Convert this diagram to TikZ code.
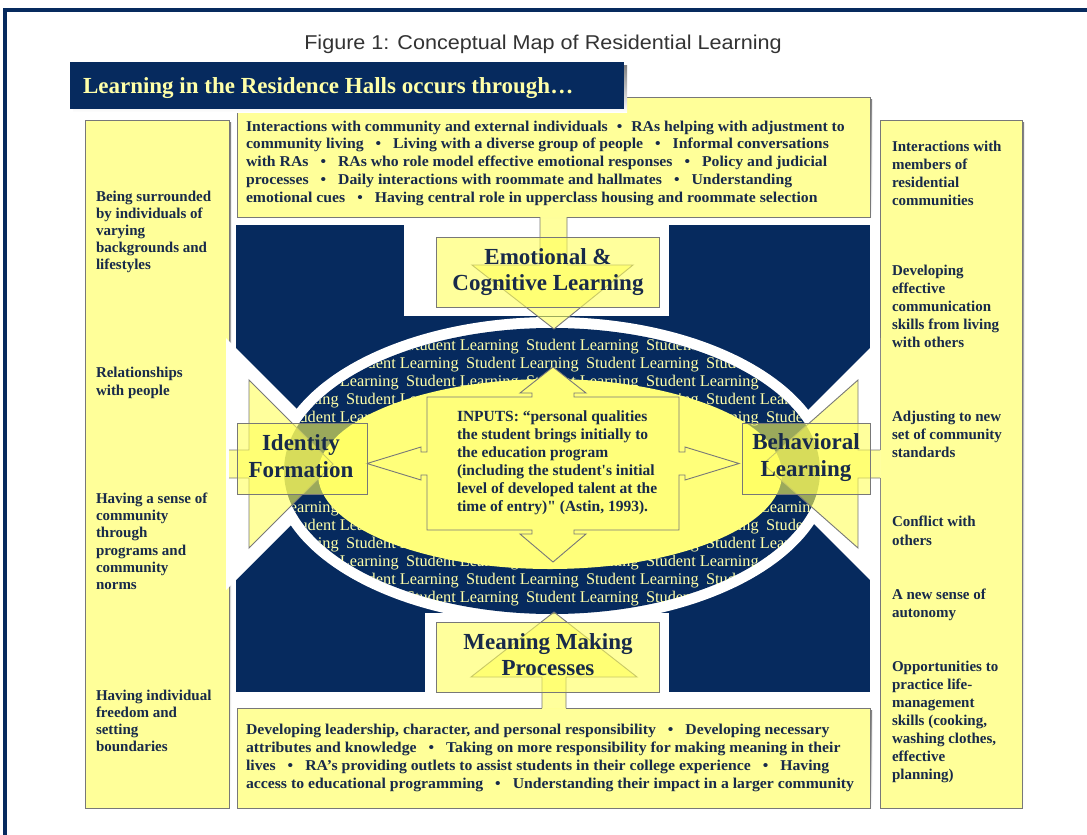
\documentclass[tikz,border=0pt]{standalone}
\usepackage{fontspec}
\setmainfont{Liberation Serif}
\newfontfamily\titlefont[FakeStretch=1.08]{Liberation Sans}
\newfontfamily\bodyfont[FakeStretch=1.05]{Liberation Serif}
\definecolor{navy}{RGB}{6,42,94}
\definecolor{ink}{RGB}{24,42,74}
\definecolor{pale}{RGB}{255,255,153}
\definecolor{bright}{RGB}{255,255,122}
\definecolor{glow}{RGB}{255,255,90}
\definecolor{cream}{RGB}{255,255,168}
\definecolor{edge}{RGB}{120,120,120}
\definecolor{shade}{RGB}{175,175,175}
\newcommand{\bl}{\hspace{0.8em}\textbullet\hspace{0.8em}}
\begin{document}
\begin{tikzpicture}[x=1pt,y=-1pt,
  every node/.style={inner sep=0pt,outer sep=0pt},
  boxline/.style={draw=edge,line width=0.9pt},
  veil/.style={fill=glow,fill opacity=0.6},
  bodytext/.style={anchor=base west,text=ink,font=\bodyfont\fontsize{15}{17}\selectfont\bfseries},
  sidetext/.style={anchor=base west,text=ink,font=\fontsize{15}{17}\selectfont\bfseries},
  labeltext/.style={anchor=base,text=ink,font=\fontsize{23}{26}\selectfont\bfseries},
  weave/.style={anchor=base west,text=cream,font=\fontsize{16.3}{18}\selectfont},
]
\useasboundingbox[fill=white] (0,0) rectangle (1087,835);

% page frame
\draw[navy,line width=4.5pt] (3,10) -- (1087,10);
\draw[navy,line width=3.5pt] (5,8) -- (5,835);

% title
\node[anchor=base,font=\titlefont\fontsize{20}{24}\selectfont,text=black!80] (title) at (543,49)
  {Figure 1: Conceptual Map of Residential Learning};

% outer text boxes (shadow, fill, outline with an opening for the arrow shaft)
\fill[shade] (87,122) rectangle (231,810);
\fill[pale] (85,120) rectangle (229,808);
\draw[boxline] (229,450) -- (229,120) -- (85,120) -- (85,808) -- (229,808) -- (229,478);

\fill[shade] (882,122) rectangle (1024,810);
\fill[pale] (880,120) rectangle (1022,808);
\draw[boxline] (880,450) -- (880,120) -- (1022,120) -- (1022,808) -- (880,808) -- (880,478);

\fill[shade] (239,99) rectangle (872,219);
\fill[pale] (237,97) rectangle (870,217);
\draw[boxline] (540,217) -- (237,217) -- (237,97) -- (870,97) -- (870,217) -- (567,217);

\fill[shade] (239,710) rectangle (872,810);
\fill[pale] (237,708) rectangle (870,808);
\draw[boxline] (542,708) -- (237,708) -- (237,808) -- (870,808) -- (870,708) -- (566,708);

% header banner
\fill[shade] (73,65) rectangle (627,112);
\fill[navy] (70,62) rectangle (624,109);
\node[anchor=base west,text=cream,font=\fontsize{23}{27}\selectfont\bfseries] (head) at (83,93.5)
  {Learning in the Residence Halls occurs through…};

% navy field with white channels and wedges
\fill[navy] (236,225) rectangle (870,692);
\fill[white] (404,225) rectangle (669,316);
\fill[white] (425,613) rectangle (669,692);
\fill[white] (226,338) -- (352,464) -- (226,590) -- cycle;
\fill[white] (880,338) -- (754,464) -- (880,590) -- cycle;

% central ellipse with the woven "Student Learning" rows
\fill[white] (552,471) ellipse [x radius=279,y radius=154];
\fill[navy] (552,471) ellipse [x radius=268,y radius=143];
\begin{scope}
  \clip (552,471) ellipse [x radius=268,y radius=143];
  \foreach \k in {0,1,2,3,4,9,10,11,12,13,14}{
    \foreach \j in {1,...,6}{
      \pgfmathsetmacro{\xa}{46+60*mod(\k,2)+120*\j}
      \pgfmathsetmacro{\dy}{min(abs(345+18*\k-474)+6,94.9)}
      \pgfmathsetmacro{\hw}{232*sqrt(1-(\dy/95)^2)}
      \pgfmathtruncatemacro{\hide}{and(\xa>550-\hw+3,\xa+113<550+\hw-3)}
      \ifnum\hide=0
        \node[weave] (sl-\k-\j) at (\xa,{350+18*\k}) {Student Learning};
      \fi
    }
  }
\end{scope}
\fill[bright] (550,474) ellipse [x radius=232,y radius=95];

% quad arrow callout
\draw[boxline,fill=bright]
  (427,397) -- (532,397) -- (532,393) -- (520,393) -- (553,367) -- (586,393) -- (574,393) -- (574,397)
  -- (679,397) -- (679,452) -- (685,452) -- (685,447) -- (739,463.5) -- (685,480) -- (685,475) -- (679,475)
  -- (679,530) -- (574,530) -- (574,534) -- (586,534) -- (553,562) -- (520,534) -- (532,534) -- (532,530)
  -- (427,530) -- (427,475) -- (421,475) -- (421,480) -- (367,463.5) -- (421,447) -- (421,452) -- (427,452)
  -- cycle;
\foreach \t [count=\i] in {
  {INPUTS: “personal qualities},
  {the student brings initially to},
  {the education program},
  {(including the student\textquotesingle s initial},
  {level of developed talent at the},
  {time of entry)\textquotedbl\ (Astin, 1993).}}
  \node[anchor=base west,text=ink,font=\fontsize{15.5}{18}\selectfont\bfseries] (in\i) at (457,{421+18*(\i-1)}) {\t};

% arrows from the outer boxes into the ellipse
\fill[veil] (540,217) -- (540,265) -- (472,265) -- (554,329) -- (633,265) -- (567,265) -- (567,217) -- cycle;
\draw[boxline] (540,217) -- (540,265) -- (472,265) -- (554,329) -- (633,265) -- (567,265) -- (567,217);
\fill[veil] (542,708) -- (542,677) -- (471,677) -- (554,612) -- (637,677) -- (566,677) -- (566,708) -- cycle;
\draw[boxline] (542,708) -- (542,677) -- (471,677) -- (554,612) -- (637,677) -- (566,677) -- (566,708);
\fill[veil] (229,450) -- (249,450) -- (249,380) -- (333,464) -- (249,548) -- (249,478) -- (229,478) -- cycle;
\draw[boxline] (229,450) -- (249,450) -- (249,380) -- (333,464) -- (249,548) -- (249,478) -- (229,478);
\fill[veil] (880,450) -- (858,450) -- (858,380) -- (763,464) -- (858,548) -- (858,478) -- (880,478) -- cycle;
\draw[boxline] (880,450) -- (858,450) -- (858,380) -- (763,464) -- (858,548) -- (858,478) -- (880,478);

% learning dimension labels
\path[veil,boxline] (436,237) rectangle (659,307);
\path[veil,boxline] (436,622) rectangle (659,692);
\path[veil,boxline] (237,423) rectangle (367,494);
\path[veil,boxline] (742,423) rectangle (870,494);
\node[labeltext] (emo1) at (548,264) {Emotional \&};
\node[labeltext] (emo2) at (548,290) {Cognitive Learning};
\node[labeltext] (mean1) at (548,649) {Meaning Making};
\node[labeltext] (mean2) at (548,675) {Processes};
\node[labeltext] (id1) at (301,450) {Identity};
\node[labeltext] (id2) at (301,477) {Formation};
\node[labeltext] (beh1) at (806,449) {Behavioral};
\node[labeltext] (beh2) at (806,476) {Learning};

% top box text
\foreach \t [count=\i] in {
  {Interactions with community and external individuals\hspace{0.6em}\textbullet\hspace{0.6em}RAs helping with adjustment to},
  {community living\bl Living with a diverse group of people\bl Informal conversations},
  {with RAs\bl RAs who role model effective emotional responses\bl Policy and judicial},
  {processes\bl Daily interactions with roommate and hallmates\bl Understanding},
  {emotional cues\bl Having central role in upperclass housing and roommate selection}}
  \node[bodytext] (top\i) at (246,{131+17.75*(\i-1)}) {\t};

% bottom box text
\foreach \t [count=\i] in {
  {Developing leadership, character, and personal responsibility\bl Developing necessary},
  {attributes and knowledge\bl Taking on more responsibility for making meaning in their},
  {lives\bl RA’s providing outlets to assist students in their college experience\bl Having},
  {access to educational programming\bl Understanding their impact in a larger community}}
  \node[bodytext] (bot\i) at (246,{734+18*(\i-1)}) {\t};

% left column
\foreach \t/\yy [count=\i] in {
  Being surrounded/201, by individuals of/218, varying/235, backgrounds and/252, lifestyles/269,
  Relationships/377, with people/395.5,
  Having a sense of/503, community/520, through/537.5, programs and/555, community/572, norms/589,
  Having individual/700, freedom and/717, setting/734, boundaries/751}
  \node[sidetext] (left\i) at (96,\yy) {\t};

% right column
\foreach \t/\yy [count=\i] in {
  Interactions with/151, members of/169, residential/187, communities/205,
  Developing/275, effective/293, communication/311, skills from living/329, with others/347,
  Adjusting to new/421, set of community/439, standards/457,
  Conflict with/526, others/545.5,
  A new sense of/599, autonomy/617,
  Opportunities to/671, practice life-/689, management/707, {skills (cooking,}/725,
  {washing clothes,}/743, effective/761, planning)/779}
  \node[sidetext] (right\i) at (892,\yy) {\t};
\end{tikzpicture}
\end{document}
